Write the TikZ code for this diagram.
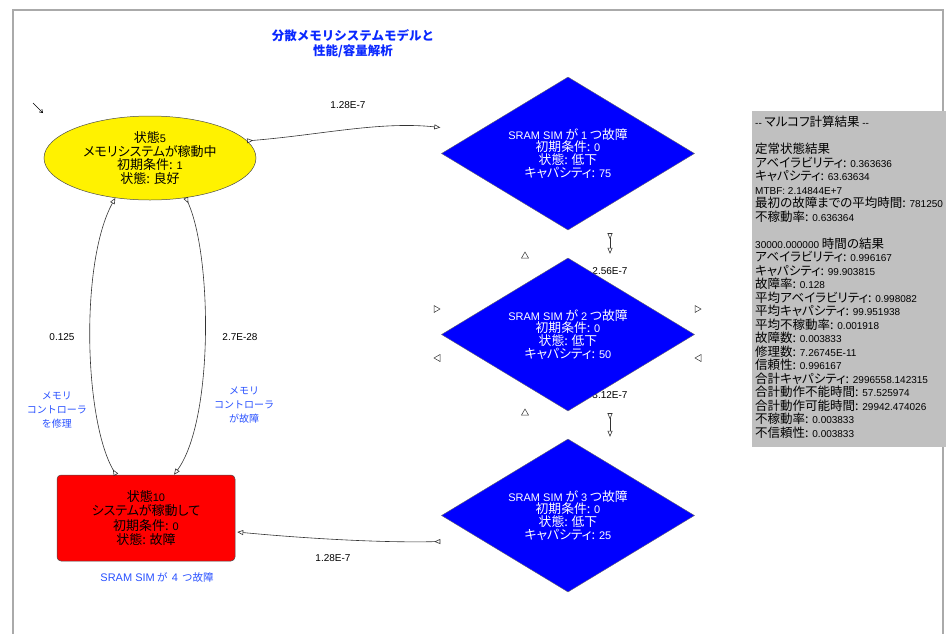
\documentclass[tikz,border=0pt]{standalone}
\usepackage{fontspec}
\setmainfont{Noto Sans CJK JP}
\newfontfamily\jpp{Noto Sans CJK JP}[RawFeature=+palt]
\newfontfamily\lat{Liberation Sans}
\newcommand\la[1]{{\lat\fontsize{11}{12}\selectfont #1}}
\newcommand\lb[1]{{\lat\fontsize{10}{12}\selectfont #1}}
\usetikzlibrary{shapes.geometric,arrows.meta,calc}
\definecolor{fr}{RGB}{170,170,170}
\definecolor{lbl}{RGB}{40,80,255}
\definecolor{ttl}{RGB}{10,40,255}
\definecolor{gbox}{RGB}{192,192,192}
\begin{document}
\begin{tikzpicture}[x=1pt,y=-1pt,
  dia/.style={diamond, fill=blue, draw=black!60, line width=0.4pt,
    minimum width=253pt, minimum height=153pt, inner sep=-14pt, text=white,
    font=\jpp\fontsize{12.8}{12.7}\selectfont, align=center},
  conn/.style={draw=black!80, line width=0.6pt,
    {Triangle[open,reversed,length=6pt,width=5pt]}-{Triangle[open,length=6pt,width=5pt]}},
  elbl/.style={font=\lat\fontsize{10}{12}\selectfont, inner sep=0pt},
  blbl/.style={font=\fontsize{10}{14}\selectfont, text=lbl, align=center, inner sep=0pt},
  tri/.style={draw=black!80, line width=0.5pt, fill=white}
]
\useasboundingbox (0,0) rectangle (946,633);
\clip (0,0) rectangle (946,633);
% frame
\draw[fr, line width=1.2pt] (13,650) -- (13,10) -- (943,10) -- (943,650);
% title
\node[font=\bfseries\fontsize{12.5}{15}\selectfont, text=ttl, align=center, inner sep=0pt] (title) at (353,44)
  {分散メモリシステムモデルと\\性能/容量解析};
% small arrow glyph
\coordinate (ga) at (33,103);
\coordinate (gb) at (43,113);
\draw[line width=0.6pt, -{Straight Barb[length=3pt,width=4pt]}] (ga) -- (gb);
% labels behind diamonds
\node[elbl] (l256) at (610,271) {2.56E-7};
\node[elbl] (l312) at (610,395) {3.12E-7};
% states
\node[dia] (d1) at (568,153.5) {\la{SRAM SIM} が \la{1} つ故障\\初期条件: \la{0}\\状態: 低下\\キャパシティ: \la{75}};
\node[dia] (d2) at (568,334.5) {\la{SRAM SIM} が \la{2} つ故障\\初期条件: \la{0}\\状態: 低下\\キャパシティ: \la{50}};
\node[dia] (d3) at (568,515.5) {\la{SRAM SIM} が \la{3} つ故障\\初期条件: \la{0}\\状態: 低下\\キャパシティ: \la{25}};
\node[ellipse, fill=yellow, draw=black!70, line width=0.5pt, minimum width=212pt, minimum height=84pt,
  inner sep=-10pt, align=center, font=\jpp\fontsize{13}{13.7}\selectfont] (e) at (150,158)
  {状態\la{5}\\メモリシステムが稼動中\\初期条件: \la{1}\\状態: 良好};
\node[rectangle, rounded corners=4pt, fill=red, draw=black!70, line width=0.5pt, minimum width=178pt,
  minimum height=86pt, inner sep=0pt, align=center, font=\jpp\fontsize{13}{14.3}\selectfont] (r) at (146,518)
  {状態\la{10}\\システムが稼動して\\初期条件: \la{0}\\状態: 故障};
\node[blbl, font=\fontsize{10.5}{14}\selectfont] (r4) at (157,577) {\la{SRAM SIM} が\, \la{4}\, つ故障};
% connectors
\coordinate (t1) at ($(d1.west)+(-1,-26)$);
\draw[conn] (e.10) .. controls (320,135) and (380,121) .. (t1);
\node[elbl] (l128a) at (348,105) {1.28E-7};
\draw[conn] ($(r.north)+(-30,0)$) .. controls (84,420) and (80,262) .. (e.229);
\draw[conn] (e.312) .. controls (212,255) and (214,420) .. ($(r.north)+(28,0)$);
\node[elbl] (l0125) at (62,337) {0.125};
\node[elbl] (l27) at (240,337) {2.7E-28};
\node[blbl] (rep) at (57,410) {メモリ\\コントローラ\\を修理};
\node[blbl] (fail) at (244,405) {メモリ\\コントローラ\\が故障};
\draw[conn] ($(d1.south)+(42,3)$) -- ($(d2.north)+(42,-4)$);
\draw[conn] ($(d2.south)+(42,2)$) -- ($(d3.north)+(42,-2)$);
\coordinate (s3) at ($(d3.west)+(-1,26)$);
\draw[conn] (s3) .. controls (380,543) and (300,538) .. ($(r.east)+(2,14)$);
\node[elbl] (l128b) at (333,558) {1.28E-7};
% stray markers
\draw[tri] (525,252) -- (528.5,258) -- (521.5,258) -- cycle;
\draw[tri] (525,409) -- (528.5,415) -- (521.5,415) -- cycle;
\draw[tri] (440,309) -- (434,305.5) -- (434,312.5) -- cycle;
\draw[tri] (701,309) -- (695,305.5) -- (695,312.5) -- cycle;
\draw[tri] (434,358) -- (440,354.5) -- (440,361.5) -- cycle;
\draw[tri] (695,358) -- (701,354.5) -- (701,361.5) -- cycle;
% results box
\fill[gbox] (752,111) rectangle (970,447);
\node[anchor=north west, inner sep=0pt, align=left, font=\jpp\fontsize{12.5}{13.5}\selectfont] (res) at (755,116)
 {\lb{--} マルコフ計算結果 \lb{--}\\[13.5pt]
 定常状態結果\\
 アベイラビリティ: \lb{0.363636}\\
 キャパシティ: \lb{63.63634}\\
 \lb{MTBF: 2.14844E+7}\\
 最初の故障までの平均時間: \lb{781250}\\
 不稼動率: \lb{0.636364}\\[13.5pt]
 \lb{30000.000000} 時間の結果\\
 アベイラビリティ: \lb{0.996167}\\
 キャパシティ: \lb{99.903815}\\
 故障率: \lb{0.128}\\
 平均アベイラビリティ: \lb{0.998082}\\
 平均キャパシティ: \lb{99.951938}\\
 平均不稼動率: \lb{0.001918}\\
 故障数: \lb{0.003833}\\
 修理数: \lb{7.26745E-11}\\
 信頼性: \lb{0.996167}\\
 合計キャパシティ: \lb{2996558.142315}\\
 合計動作不能時間: \lb{57.525974}\\
 合計動作可能時間: \lb{29942.474026}\\
 不稼動率: \lb{0.003833}\\
 不信頼性: \lb{0.003833}};
\end{tikzpicture}
\end{document}
